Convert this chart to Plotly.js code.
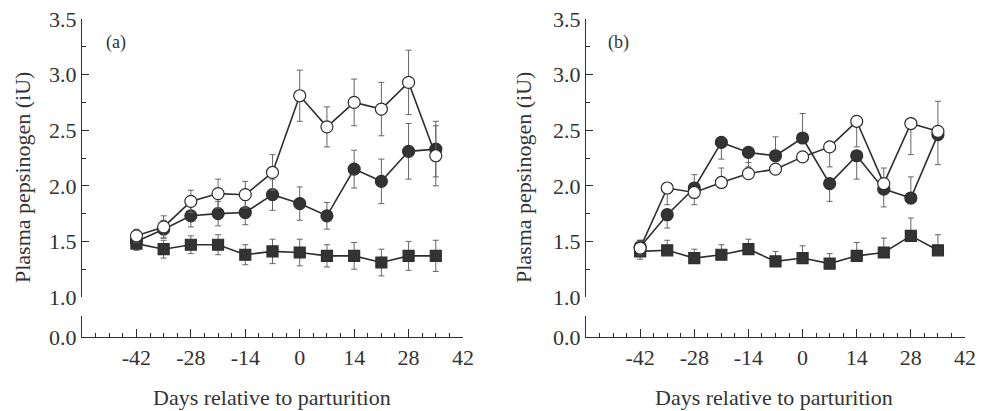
<!DOCTYPE html>
<html>
<head>
<meta charset="utf-8">
<script src="https://cdn.plot.ly/plotly-3.0.1.min.js"></script>
<style>html,body{margin:0;padding:0;background:#fff;}#chart{width:983px;height:411px;}</style>
</head>
<body>
<div id="chart"></div>
<script>
// Days relative to parturition
const days = [-42, -35, -28, -21, -14, -7, 0, 7, 14, 21, 28, 35];
const xTicks = [-42, -28, -14, 0, 14, 28, 42];
const yTicks = [1.0, 1.5, 2.0, 2.5, 3.0, 3.5];

// Panel (a)
const aOpen      = [1.55, 1.63, 1.86, 1.93, 1.92, 2.12, 2.81, 2.53, 2.75, 2.69, 2.93, 2.27];
const aOpenErr   = [0.06, 0.10, 0.10, 0.13, 0.12, 0.16, 0.23, 0.18, 0.21, 0.24, 0.29, 0.27];
const aFilled    = [1.50, 1.61, 1.73, 1.75, 1.76, 1.92, 1.84, 1.73, 2.15, 2.04, 2.31, 2.33];
const aFilledErr = [0.05, 0.08, 0.10, 0.11, 0.11, 0.14, 0.15, 0.12, 0.17, 0.20, 0.25, 0.25];
const aSquare    = [1.48, 1.43, 1.47, 1.47, 1.38, 1.41, 1.40, 1.37, 1.37, 1.31, 1.37, 1.37];
const aSquareErr = [0.06, 0.08, 0.08, 0.09, 0.09, 0.11, 0.12, 0.10, 0.12, 0.12, 0.13, 0.14];

// Panel (b)
const bOpen       = [1.44, 1.98, 1.94, 2.03, 2.11, 2.15, 2.26, 2.35, 2.58, 2.02, 2.56, 2.49];
const bOpenUp     = [0.06, 0.00, 0.00, 0.13, 0.10, 0.00, 0.00, 0.00, 0.00, 0.14, 0.00, 0.27];
const bOpenDown   = [0.06, 0.15, 0.11, 0.00, 0.00, 0.00, 0.00, 0.18, 0.23, 0.00, 0.28, 0.00];
const bFilled     = [1.45, 1.74, 1.98, 2.39, 2.30, 2.27, 2.43, 2.02, 2.27, 1.97, 1.89, 2.46];
const bFilledUp   = [0.06, 0.00, 0.12, 0.00, 0.00, 0.17, 0.22, 0.00, 0.00, 0.00, 0.19, 0.00];
const bFilledDown = [0.06, 0.12, 0.00, 0.15, 0.13, 0.00, 0.00, 0.16, 0.21, 0.16, 0.00, 0.27];
const bSquare     = [1.41, 1.42, 1.35, 1.38, 1.43, 1.32, 1.35, 1.30, 1.37, 1.40, 1.55, 1.42];
const bSquareUp   = [0.10, 0.09, 0.08, 0.09, 0.09, 0.09, 0.11, 0.09, 0.12, 0.13, 0.16, 0.14];
const bSquareDown = [0.07, 0.00, 0.00, 0.00, 0.00, 0.00, 0.00, 0.00, 0.00, 0.00, 0.00, 0.00];

const ink = '#2e2e2e';
const errCol = '#666';
const font = 'Liberation Serif';

function series(y, up, down, kind, xa, ya) {
  const sym = kind === 'square' ? 'square' : 'circle';
  const fill = kind === 'open' ? '#ffffff' : '#333333';
  const err = {type: 'data', array: up, visible: true, color: errCol, thickness: 1, width: 3};
  if (down) { err.symmetric = false; err.arrayminus = down; }
  return {
    x: days, y: y, xaxis: xa, yaxis: ya, type: 'scatter', mode: 'lines+markers',
    line: {color: ink, width: 1.6},
    marker: {symbol: sym, size: kind === 'square' ? 11 : 12, color: fill, line: {color: ink, width: 1.2}},
    error_y: err, cliponaxis: false, showlegend: false, hoverinfo: 'skip'
  };
}
// empty traces so that the lower (broken-axis) subplots exist
function emptyTrace(xa, ya) {
  return {x: [], y: [], xaxis: xa, yaxis: ya, type: 'scatter', mode: 'markers', showlegend: false, hoverinfo: 'skip'};
}

const data = [
  emptyTrace('x', 'y2'),
  emptyTrace('x2', 'y4'),
  series(aSquare, aSquareErr, null, 'square', 'x', 'y'),
  series(aFilled, aFilledErr, null, 'filled', 'x', 'y'),
  series(aOpen, aOpenErr, null, 'open', 'x', 'y'),
  series(bSquare, bSquareUp, bSquareDown, 'square', 'x2', 'y3'),
  series(bFilled, bFilledUp, bFilledDown, 'filled', 'x2', 'y3'),
  series(bOpen, bOpenUp, bOpenDown, 'open', 'x2', 'y3')
];

const tf = {family: font, size: 22, color: '#333'};

function xAxis(domain, anchor) {
  return {
    domain: domain, anchor: anchor, range: [-56, 42],
    tickvals: xTicks, ticktext: xTicks.map(String),
    ticks: 'inside', ticklen: 8, tickwidth: 1, tickcolor: ink,
    minor: {dtick: 3.5, tick0: 0, ticks: 'inside', ticklen: 4, tickcolor: ink, showgrid: false},
    showline: true, linecolor: ink, linewidth: 1.2,
    showgrid: false, zeroline: false, tickfont: tf, fixedrange: true
  };
}
function yUpper(anchor) {
  return {
    domain: [0.1258, 1], anchor: anchor, range: [1, 3.5],
    tickvals: yTicks, ticktext: yTicks.map(v => v.toFixed(1)),
    ticks: 'inside', ticklen: 7, tickwidth: 1, tickcolor: ink,
    minor: {dtick: 0.25, tick0: 0, ticks: 'inside', ticklen: 4, tickcolor: ink, showgrid: false},
    showline: true, linecolor: ink, linewidth: 1.2,
    showgrid: false, zeroline: false, tickfont: tf, fixedrange: true
  };
}
function yLower(anchor) {
  return {
    domain: [0, 0.066], anchor: anchor, range: [0, 0.19],
    tickvals: [0, 0.19], ticktext: ['0.0', ''],
    ticks: 'inside', ticklen: 7, tickwidth: 1, tickcolor: ink,
    showline: true, linecolor: ink, linewidth: 1.2,
    showgrid: false, zeroline: false, tickfont: tf, fixedrange: true
  };
}

const annFont = {family: font, size: 22, color: '#333'};
const layout = {
  width: 983, height: 411,
  margin: {l: 82, r: 18, t: 19, b: 74},
  paper_bgcolor: '#fff', plot_bgcolor: '#fff',
  showlegend: false,
  font: {family: font},
  xaxis: xAxis([0, 0.4315], 'y2'),
  xaxis2: xAxis([0.5708, 1], 'y4'),
  yaxis: yUpper('x'),
  yaxis2: yLower('x'),
  yaxis3: yUpper('x2'),
  yaxis4: yLower('x2'),
  annotations: [
    {text: '(a)', xref: 'paper', yref: 'paper', x: (116 - 82) / 883, y: (337 - 43) / 318, showarrow: false, xanchor: 'center', yanchor: 'middle', font: {family: font, size: 18, color: '#333'}},
    {text: '(b)', xref: 'paper', yref: 'paper', x: (618 - 82) / 883, y: (337 - 43) / 318, showarrow: false, xanchor: 'center', yanchor: 'middle', font: {family: font, size: 18, color: '#333'}},
    {text: 'Plasma pepsinogen (iU)', xref: 'paper', yref: 'paper', x: (22 - 82) / 883, y: (337 - 178) / 318, textangle: -90, showarrow: false, xanchor: 'center', yanchor: 'middle', font: annFont},
    {text: 'Plasma pepsinogen (iU)', xref: 'paper', yref: 'paper', x: (523 - 82) / 883, y: (337 - 178) / 318, textangle: -90, showarrow: false, xanchor: 'center', yanchor: 'middle', font: annFont},
    {text: 'Days relative to parturition', xref: 'paper', yref: 'paper', x: (272 - 82) / 883, y: (337 - 397) / 318, showarrow: false, xanchor: 'center', yanchor: 'middle', font: annFont},
    {text: 'Days relative to parturition', xref: 'paper', yref: 'paper', x: (774 - 82) / 883, y: (337 - 397) / 318, showarrow: false, xanchor: 'center', yanchor: 'middle', font: annFont}
  ]
};

Plotly.newPlot('chart', data, layout, {staticPlot: true, displayModeBar: false});
</script>
</body>
</html>
